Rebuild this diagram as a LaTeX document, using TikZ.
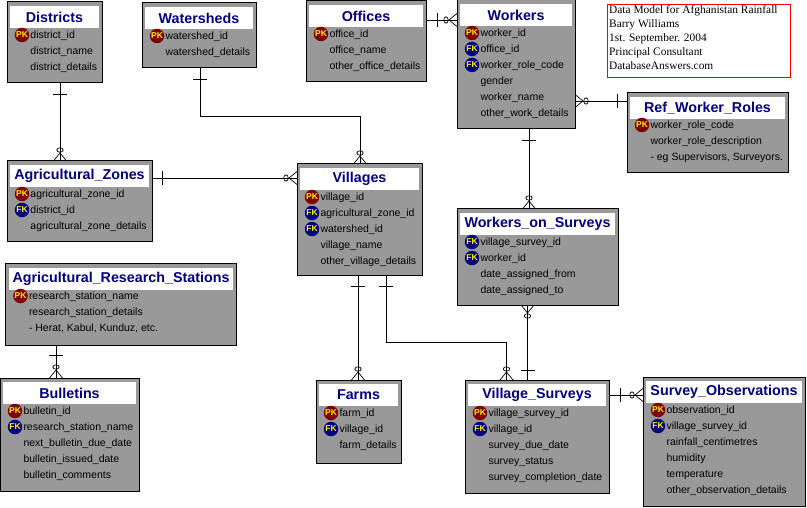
\documentclass[tikz,border=0pt]{standalone}
\usepackage{fontspec}
\setmainfont{Liberation Sans}
\newfontfamily\notefont{Liberation Serif}
\usetikzlibrary{shapes.geometric}
\definecolor{boxgray}{RGB}{153,153,153}
\definecolor{navyt}{RGB}{0,0,128}
\definecolor{maroonb}{RGB}{128,0,0}
\tikzset{
  x=1pt,y=-1pt,
  erbox/.style={draw=black,line width=1pt,fill=boxgray,inner sep=0,outer sep=0},
  ertitle/.style={fill=white,inner sep=0,outer sep=0,text=navyt,font=\fontsize{14.3}{14}\selectfont\bfseries,align=center,minimum height=22pt},
  fieldtext/.style={anchor=west,inner sep=0,outer sep=0,text height=8pt,text depth=1.4pt,font=\fontsize{10.5}{12}\selectfont,text=black},
  badge/.style={circle,inner sep=0,outer sep=0,minimum size=14.5pt,text=yellow,font=\fontsize{8.5}{9}\selectfont\bfseries},
  pkbadge/.style={badge,fill=maroonb},
  fkbadge/.style={badge,fill=navyt},
  conn/.style={draw=black,line width=0.9pt},
  thin conn/.style={draw=black,line width=0.7pt},
  many/.pic={\draw[thin conn] (0,-6.5) -- (8,0) -- (0,6.5);
             \draw[thin conn] (11,0) ellipse [x radius=2.2,y radius=3.2];},
  onebar/.pic={\draw[conn] (0,-7) -- (0,7);},
}
\def\ro{33}
\newcommand{\tbl}[5]{%
  \pgfmathsetlengthmacro{\bw}{(#4-#2)*1pt}\pgfmathsetlengthmacro{\bh}{(#5-#3)*1pt}%
  \pgfmathsetlengthmacro{\tw}{(#4-#2-6.5)*1pt}%
  \node[erbox,anchor=north west,minimum width=\bw,minimum height=\bh] (#1) at (#2,#3) {};}
\newcommand{\ttl}[2]{\node[ertitle,anchor=north,minimum width=\tw] (#1t) at ([shift={(0,4)}]#1.north) {#2};}
\newcommand{\fld}[4]{% table, row, kind, text
  \node[fieldtext] (#1f#2) at ([shift={(23.5,{\ro+16*(#2-1)})}]#1.north west) {#4};%
  \ifx#3P\node[pkbadge] (#1b#2) at ([shift={(15,{\ro+16*(#2-1)})}]#1.north west) {PK};\fi
  \ifx#3F\node[fkbadge] (#1b#2) at ([shift={(15,{\ro+16*(#2-1)})}]#1.north west) {FK};\fi}
\begin{document}
\begin{tikzpicture}
\useasboundingbox (0,0) rectangle (807,508);
% tables
\tbl{dist}{7}{2}{102}{83}\ttl{dist}{Districts}
\fld{dist}{1}{P}{district\_id}\fld{dist}{2}{N}{district\_name}\fld{dist}{3}{N}{district\_details}
\tbl{wsh}{142}{3}{256}{68}\ttl{wsh}{Watersheds}
\fld{wsh}{1}{P}{watershed\_id}\fld{wsh}{2}{N}{watershed\_details}
\tbl{off}{306}{1}{426}{82}\ttl{off}{Offices}
\fld{off}{1}{P}{office\_id}\fld{off}{2}{N}{office\_name}\fld{off}{3}{N}{other\_office\_details}
\tbl{wrk}{457}{0}{575}{129}\ttl{wrk}{Workers}
\fld{wrk}{1}{P}{worker\_id}\fld{wrk}{2}{F}{office\_id}\fld{wrk}{3}{F}{worker\_role\_code}\fld{wrk}{4}{N}{gender}\fld{wrk}{5}{N}{worker\_name}\fld{wrk}{6}{N}{other\_work\_details}
\def\ro{32}
\tbl{ref}{627}{93}{788}{173}\ttl{ref}{Ref\_Worker\_Roles}
\fld{ref}{1}{P}{worker\_role\_code}\fld{ref}{2}{N}{worker\_role\_description}\fld{ref}{3}{N}{- eg Supervisors, Surveyors.}
\def\ro{33}
\tbl{zone}{7}{161}{152}{242}\ttl{zone}{Agricultural\_Zones}
\fld{zone}{1}{P}{agricultural\_zone\_id}\fld{zone}{2}{F}{district\_id}\fld{zone}{3}{N}{agricultural\_zone\_details}
\tbl{vil}{297}{164}{422}{276}\ttl{vil}{Villages}
\fld{vil}{1}{P}{village\_id}\fld{vil}{2}{F}{agricultural\_zone\_id}\fld{vil}{3}{F}{watershed\_id}\fld{vil}{4}{N}{village\_name}\fld{vil}{5}{N}{other\_village\_details}
\tbl{wos}{457}{209}{618}{305}\ttl{wos}{Workers\_on\_Surveys}
\fld{wos}{1}{F}{village\_survey\_id}\fld{wos}{2}{F}{worker\_id}\fld{wos}{3}{N}{date\_assigned\_from}\fld{wos}{4}{N}{date\_assigned\_to}
\def\ro{32}
\tbl{ars}{5.5}{264}{236.5}{345}\ttl{ars}{Agricultural\_Research\_Stations}
\fld{ars}{1}{P}{research\_station\_name}\fld{ars}{2}{N}{research\_station\_details}\fld{ars}{3}{N}{- Herat, Kabul, Kunduz, etc.}
\def\ro{33}
\tbl{bul}{0}{378}{139}{491}\ttl{bul}{Bulletins}
\fld{bul}{1}{P}{bulletin\_id}\fld{bul}{2}{F}{research\_station\_name}\fld{bul}{3}{N}{next\_bulletin\_due\_date}\fld{bul}{4}{N}{bulletin\_issued\_date}\fld{bul}{5}{N}{bulletin\_comments}
\tbl{frm}{316}{380}{401}{463}\ttl{frm}{Farms}
\fld{frm}{1}{P}{farm\_id}\fld{frm}{2}{F}{village\_id}\fld{frm}{3}{N}{farm\_details}
\tbl{vs}{465}{380}{609}{493}\ttl{vs}{Village\_Surveys}
\fld{vs}{1}{P}{village\_survey\_id}\fld{vs}{2}{F}{village\_id}\fld{vs}{3}{N}{survey\_due\_date}\fld{vs}{4}{N}{survey\_status}\fld{vs}{5}{N}{survey\_completion\_date}
\tbl{so}{643}{377}{805}{506}\ttl{so}{Survey\_Observations}
\fld{so}{1}{P}{observation\_id}\fld{so}{2}{F}{village\_survey\_id}\fld{so}{3}{N}{rainfall\_centimetres}\fld{so}{4}{N}{humidity}\fld{so}{5}{N}{temperature}\fld{so}{6}{N}{other\_observation\_details}
% note
\node[draw=red,line width=0.8pt,fill=white,anchor=north west,minimum width=183pt,minimum height=73pt,inner sep=0,outer sep=0] (note) at (607.5,4.5) {};
\node[anchor=north west,inner sep=0,font=\notefont\fontsize{11.4}{14}\selectfont,align=left] (notetext) at ([shift={(1.5,1)}]note.north west) {Data Model for Afghanistan Rainfall\\Barry Williams\\1st. September. 2004\\Principal Consultant\\DatabaseAnswers.com};
% connectors
\draw[conn] ([xshift=5.5pt]dist.south) -- ([xshift=-19.5pt]zone.north) coordinate (e1);
\pic[rotate=90] at (e1) {many};
\pic[rotate=90] at ([xshift=5.5pt,yshift=-11pt]dist.south) {onebar};
\draw[conn] ([xshift=1pt]wsh.south) |- (360,116) coordinate (e2a) -- ([xshift=0.5pt]vil.north) coordinate (e2);
\pic[rotate=90] at (e2) {many};
\pic[rotate=90] at ([xshift=1pt,yshift=-11pt]wsh.south) {onebar};
\draw[conn] (off.east |- wrk.west) ++(0,-44.5) coordinate (e3s) -- (e3s -| wrk.west) coordinate (e3);
\pic[rotate=180] at (e3) {many};
\pic at ([xshift=11pt]e3s) {onebar};
\draw[conn] ([yshift=32pt]wrk.east |- ref.west) coordinate (e4s) -- (e4s -| ref.west) coordinate (e4);
\pic at (e4s) {many};
\pic at ([xshift=-10pt]e4) {onebar};
\draw[conn] ([xshift=13pt]wrk.south) coordinate (e5s) -- ([xshift=-8.5pt]wos.north) coordinate (e5);
\pic[rotate=90] at (e5) {many};
\pic[rotate=90] at ([yshift=-11pt]e5s) {onebar};
\draw[conn] ([yshift=23.5pt]zone.east) coordinate (e6s) -- (e6s -| vil.west) coordinate (e6);
\pic[rotate=180] at (e6) {many};
\pic at ([xshift=10pt]e6s) {onebar};
\draw[conn] ([xshift=-65pt]ars.south) coordinate (e7s) -- (e7s |- bul.north) coordinate (e7);
\pic[rotate=90] at (e7) {many};
\pic[rotate=90] at ([yshift=-10pt]e7s) {onebar};
\draw[conn] ([xshift=-1.5pt]vil.south) coordinate (e8s) -- (e8s |- frm.north) coordinate (e8);
\pic[rotate=90] at (e8) {many};
\pic[rotate=90] at ([yshift=-10pt]e8s) {onebar};
\draw[conn] ([xshift=26.5pt]vil.south) coordinate (e9s) |- (506.5,342) -- (506.5,380) coordinate (e9);
\pic[rotate=90] at (e9) {many};
\pic[rotate=90] at ([yshift=-10pt]e9s) {onebar};
\draw[conn] ([xshift=-9.5pt]vs.north) coordinate (e10s) -- (e10s |- wos.south) coordinate (e10);
\pic[rotate=-90] at (e10) {many};
\pic[rotate=90] at ([yshift=10pt]e10s) {onebar};
\draw[conn] ([yshift=41.5pt]vs.east) coordinate (e11s) -- (e11s -| so.west) coordinate (e11);
\pic[rotate=180] at (e11) {many};
\pic at ([xshift=11pt]e11s) {onebar};
\end{tikzpicture}
\end{document}
